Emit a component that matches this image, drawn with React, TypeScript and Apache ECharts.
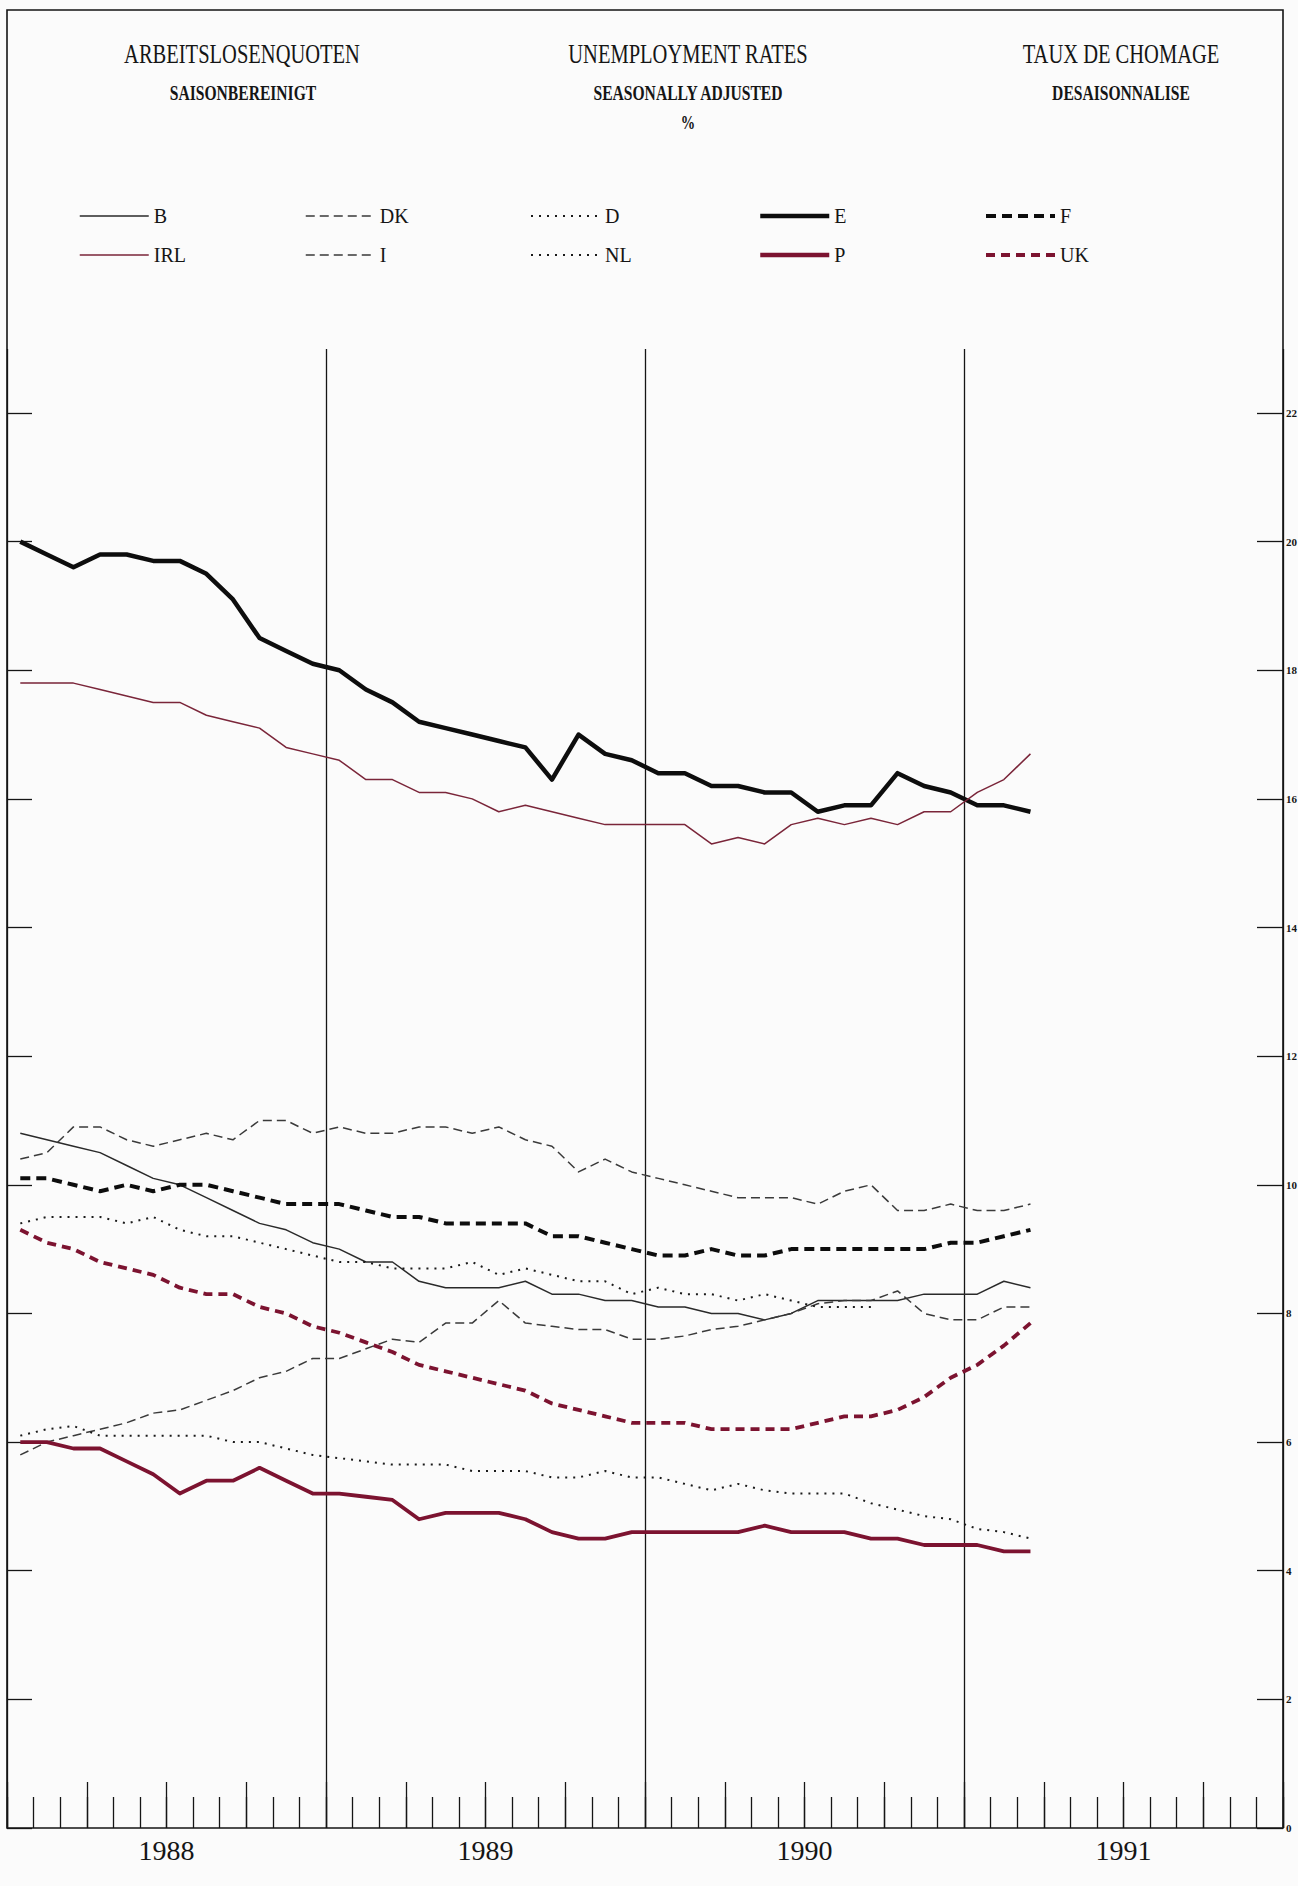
import React, { useEffect, useRef } from "react";
import * as echarts from "echarts";

// ---- data (monthly, Jan 1988 = index 0) ----
const YEARS = ["1988", "1989", "1990", "1991"];
const MONTH_COUNT = 48;
const Y_MAX = 22;
const Y_STEP = 2;

const B = [10.8, 10.7, 10.6, 10.5, 10.3, 10.1, 10.0, 9.8, 9.6, 9.4, 9.3, 9.1, 9.0, 8.8, 8.8, 8.5, 8.4, 8.4, 8.4, 8.5, 8.3, 8.3, 8.2, 8.2, 8.1, 8.1, 8.0, 8.0, 7.9, 8.0, 8.2, 8.2, 8.2, 8.2, 8.3, 8.3, 8.3, 8.5, 8.4];
const DK = [5.8, 6.0, 6.1, 6.2, 6.3, 6.45, 6.5, 6.65, 6.8, 7.0, 7.1, 7.3, 7.3, 7.45, 7.6, 7.55, 7.85, 7.85, 8.2, 7.85, 7.8, 7.75, 7.75, 7.6, 7.6, 7.65, 7.75, 7.8, 7.9, 8.0, 8.15, 8.2, 8.2, 8.35, 8.0, 7.9, 7.9, 8.1, 8.1];
const D = [6.1, 6.2, 6.25, 6.1, 6.1, 6.1, 6.1, 6.1, 6.0, 6.0, 5.9, 5.8, 5.75, 5.7, 5.65, 5.65, 5.65, 5.55, 5.55, 5.55, 5.45, 5.45, 5.55, 5.45, 5.45, 5.35, 5.25, 5.35, 5.25, 5.2, 5.2, 5.2, 5.05, 4.95, 4.85, 4.8, 4.65, 4.6, 4.5];
const E = [20.0, 19.8, 19.6, 19.8, 19.8, 19.7, 19.7, 19.5, 19.1, 18.5, 18.3, 18.1, 18.0, 17.7, 17.5, 17.2, 17.1, 17.0, 16.9, 16.8, 16.3, 17.0, 16.7, 16.6, 16.4, 16.4, 16.2, 16.2, 16.1, 16.1, 15.8, 15.9, 15.9, 16.4, 16.2, 16.1, 15.9, 15.9, 15.8];
const F = [10.1, 10.1, 10.0, 9.9, 10.0, 9.9, 10.0, 10.0, 9.9, 9.8, 9.7, 9.7, 9.7, 9.6, 9.5, 9.5, 9.4, 9.4, 9.4, 9.4, 9.2, 9.2, 9.1, 9.0, 8.9, 8.9, 9.0, 8.9, 8.9, 9.0, 9.0, 9.0, 9.0, 9.0, 9.0, 9.1, 9.1, 9.2, 9.3];
const IRL = [17.8, 17.8, 17.8, 17.7, 17.6, 17.5, 17.5, 17.3, 17.2, 17.1, 16.8, 16.7, 16.6, 16.3, 16.3, 16.1, 16.1, 16.0, 15.8, 15.9, 15.8, 15.7, 15.6, 15.6, 15.6, 15.6, 15.3, 15.4, 15.3, 15.6, 15.7, 15.6, 15.7, 15.6, 15.8, 15.8, 16.1, 16.3, 16.7];
const I = [10.4, 10.5, 10.9, 10.9, 10.7, 10.6, 10.7, 10.8, 10.7, 11.0, 11.0, 10.8, 10.9, 10.8, 10.8, 10.9, 10.9, 10.8, 10.9, 10.7, 10.6, 10.2, 10.4, 10.2, 10.1, 10.0, 9.9, 9.8, 9.8, 9.8, 9.7, 9.9, 10.0, 9.6, 9.6, 9.7, 9.6, 9.6, 9.7];
const NL = [9.4, 9.5, 9.5, 9.5, 9.4, 9.5, 9.3, 9.2, 9.2, 9.1, 9.0, 8.9, 8.8, 8.8, 8.7, 8.7, 8.7, 8.8, 8.6, 8.7, 8.6, 8.5, 8.5, 8.3, 8.4, 8.3, 8.3, 8.2, 8.3, 8.2, 8.1, 8.1, 8.1];
const P = [6.0, 6.0, 5.9, 5.9, 5.7, 5.5, 5.2, 5.4, 5.4, 5.6, 5.4, 5.2, 5.2, 5.15, 5.1, 4.8, 4.9, 4.9, 4.9, 4.8, 4.6, 4.5, 4.5, 4.6, 4.6, 4.6, 4.6, 4.6, 4.7, 4.6, 4.6, 4.6, 4.5, 4.5, 4.4, 4.4, 4.4, 4.3, 4.3];
const UK = [9.3, 9.1, 9.0, 8.8, 8.7, 8.6, 8.4, 8.3, 8.3, 8.1, 8.0, 7.8, 7.7, 7.55, 7.4, 7.2, 7.1, 7.0, 6.9, 6.8, 6.6, 6.5, 6.4, 6.3, 6.3, 6.3, 6.2, 6.2, 6.2, 6.2, 6.3, 6.4, 6.4, 6.5, 6.7, 7.0, 7.2, 7.5, 7.85];

const TITLES = ["ARBEITSLOSENQUOTEN", "UNEMPLOYMENT RATES", "TAUX DE CHOMAGE"];
const SUBTITLES = ["SAISONBEREINIGT", "SEASONALLY ADJUSTED", "DESAISONNALISE"];
const UNIT = "%";

const SERIF = '"Liberation Serif", "DejaVu Serif", serif';
const INK = "#151515";
const RED = "#7c1330";
const RED_THIN = "#7a2539";

const toPoints = (vals: number[]) => vals.map((v, i) => [i + 0.5, v]);

const mk = (name: string, vals: number[], color: string, width: number, type: any) => ({
  name,
  type: "line",
  xAxisIndex: 0,
  yAxisIndex: 0,
  data: toPoints(vals),
  symbol: "none",
  showSymbol: false,
  color,
  lineStyle: { color, width, type, cap: "butt", join: "round" },
  emphasis: { disabled: true },
  z: 3,
});

const W = 1298;
const H = 1886;
const PLOT_L = 7;
const PLOT_R = 1283;
const PLOT_B = 1828;
const FRAME_T = 10;
const UNIT_PX = 64.32;
const DATA_TOP = PLOT_B - Y_MAX * UNIT_PX;
const YEARLINE_TOP = 349;

const titleText = (text: string, x: number, y: number, size: number, weight: string, sx: number) => ({
  type: "text",
  x,
  y,
  scaleX: sx,
  silent: true,
  style: {
    text,
    font: `${weight} ${size}px ${SERIF}`,
    textAlign: "center",
    textVerticalAlign: "middle",
    fill: INK,
  },
});

const legendCol = (left: number, names: string[], width: number) => ({
  orient: "vertical",
  left,
  top: 206,
  padding: 0,
  itemWidth: 69,
  itemHeight: 22,
  itemGap: 19,
  selectedMode: false,
  data: names,
  itemStyle: { opacity: 0, borderWidth: 0 },
  lineStyle: { width },
  textStyle: { fontFamily: SERIF, fontSize: 20, color: INK },
});

const flatAxis = { onZero: false, show: false };

export default function App() {
  const ref = useRef<HTMLDivElement>(null);
  useEffect(() => {
    if (!ref.current) return;
    const chart = echarts.init(ref.current, null, { renderer: "svg", width: W, height: H });
    const option: any = {
      animation: false,
      backgroundColor: "#fbfbfb",
      grid: [
        {
          left: PLOT_L, top: DATA_TOP, width: PLOT_R - PLOT_L, height: PLOT_B - DATA_TOP,
          containLabel: false, outerBoundsMode: "none",
        },
        {
          left: PLOT_L, top: YEARLINE_TOP, width: PLOT_R - PLOT_L, height: PLOT_B - YEARLINE_TOP,
          containLabel: false, outerBoundsMode: "none",
        },
      ],
      xAxis: [
        {
          type: "value", gridIndex: 0, min: 0, max: MONTH_COUNT, interval: 1, position: "bottom",
          axisLine: flatAxis,
          axisTick: { show: true, inside: true, length: 31, lineStyle: { color: INK, width: 1.3 } },
          axisLabel: { show: false },
          splitLine: { show: false },
        },
        {
          type: "value", gridIndex: 0, min: 0, max: MONTH_COUNT, interval: 3, position: "bottom",
          axisLine: flatAxis,
          axisTick: { show: true, inside: true, length: 46, lineStyle: { color: INK, width: 1.3 } },
          axisLabel: { show: false },
          splitLine: { show: false },
        },
        {
          type: "category", gridIndex: 1, data: YEARS, boundaryGap: true, position: "bottom",
          axisLine: flatAxis,
          axisTick: { show: false },
          axisLabel: { show: true, fontFamily: SERIF, fontSize: 28, color: INK, margin: 8 },
          splitLine: { show: true, lineStyle: { color: INK, width: 1.3 } },
        },
      ],
      yAxis: [
        {
          type: "value", gridIndex: 0, min: 0, max: Y_MAX, interval: Y_STEP, position: "left",
          axisLine: flatAxis,
          axisTick: { show: true, inside: true, length: 25, lineStyle: { color: INK, width: 1.3 } },
          axisLabel: { show: false },
          splitLine: { show: false },
        },
        {
          type: "value", gridIndex: 0, min: 0, max: Y_MAX, interval: Y_STEP, position: "right",
          axisLine: flatAxis,
          axisTick: { show: true, inside: true, length: 26, lineStyle: { color: INK, width: 1.3 } },
          axisLabel: {
            show: true, inside: false, margin: 3, fontFamily: SERIF, fontSize: 11,
            fontWeight: "bold", color: INK,
          },
          splitLine: { show: false },
        },
        { type: "value", gridIndex: 1, min: 0, max: 1, show: false },
      ],
      legend: [
        legendCol(79, ["B", "IRL"], 1.5),
        legendCol(305, ["DK", "I"], 1.5),
        legendCol(530, ["D", "NL"], 2),
        legendCol(758, ["E", "P"], 4.5),
        legendCol(984, ["F", "UK"], 4),
      ],
      series: [
        mk("B", B, "#2a2a2a", 1.5, "solid"),
        mk("DK", DK, "#3a3a3a", 1.5, [9, 5]),
        mk("D", D, "#1a1a1a", 2, [2, 6]),
        mk("E", E, "#0d0d0d", 4.5, "solid"),
        mk("F", F, "#0d0d0d", 4, [10, 6]),
        mk("IRL", IRL, RED_THIN, 1.5, "solid"),
        mk("I", I, "#3a3a3a", 1.5, [9, 5]),
        mk("NL", NL, "#1a1a1a", 2, [2, 6]),
        mk("P", P, RED, 3.8, "solid"),
        mk("UK", UK, RED, 3.8, [9, 6]),
        {
          name: "_years",
          type: "line",
          xAxisIndex: 2,
          yAxisIndex: 2,
          data: [],
          silent: true,
        },
      ],
      graphic: [
        {
          type: "rect",
          silent: true,
          z: 100,
          shape: { x: PLOT_L, y: FRAME_T, width: PLOT_R - PLOT_L, height: PLOT_B - FRAME_T },
          style: { fill: "none", stroke: INK, lineWidth: 1.6 },
        },
        titleText(TITLES[0], 242, 54, 27, "normal", 0.76),
        titleText(TITLES[1], 688, 54, 27, "normal", 0.76),
        titleText(TITLES[2], 1121, 54, 27, "normal", 0.76),
        titleText(SUBTITLES[0], 243, 93, 20, "bold", 0.78),
        titleText(SUBTITLES[1], 688, 93, 20, "bold", 0.78),
        titleText(SUBTITLES[2], 1121, 93, 20, "bold", 0.78),
        titleText(UNIT, 688, 123, 18, "bold", 0.8),
      ],
    };
    chart.setOption(option);
    return () => chart.dispose();
  }, []);
  return (
    <div
      ref={ref}
      style={{ position: "absolute", left: 0, top: 0, width: W, height: H, overflow: "hidden" }}
    />
  );
}
